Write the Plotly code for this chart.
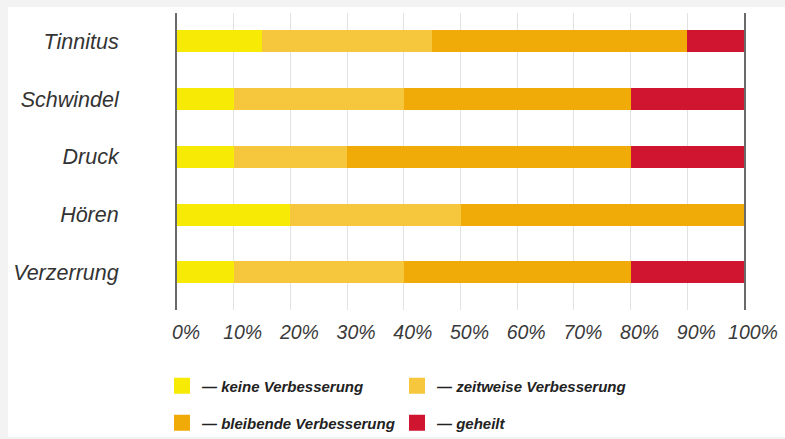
import plotly.graph_objects as go

categories = ["Tinnitus", "Schwindel", "Druck", "Hören", "Verzerrung"]
keine = [15, 10, 10, 20, 10]
zeitweise = [30, 30, 20, 30, 30]
bleibende = [45, 40, 50, 50, 40]
geheilt = [10, 20, 20, 0, 20]
x_ticks = [0, 10, 20, 30, 40, 50, 60, 70, 80, 90, 100]
x_tick_labels = [f"{v}%" for v in x_ticks]

series = [
    ("— keine Verbesserung", keine, "#f7ea05", "legend"),
    ("— zeitweise Verbesserung", zeitweise, "#f6c63c", "legend"),
    ("— bleibende Verbesserung", bleibende, "#f0ab08", "legend2"),
    ("— geheilt", geheilt, "#cf1530", "legend2"),
]

W, H = 785, 439
ML, MR, MT, MB = 177, 41, 13, 129
PW, PH = W - ML - MR, H - MT - MB

fig = go.Figure()
for name, vals, color, lg in series:
    fig.add_trace(go.Bar(
        y=categories, x=vals, orientation="h", name=name,
        marker=dict(color=color, line=dict(width=0)),
        width=0.38, showlegend=False,
    ))
    fig.add_trace(go.Scatter(
        x=[None], y=[None], mode="markers", name=name,
        marker=dict(symbol="square", size=16, color=color),
        legend=lg, showlegend=True,
    ))

def px_x(p):
    return (p - ML) / PW

def px_y(p):
    return (H - MB - p) / PH

def cx(p):
    return p / W

def cy(p):
    return 1 - p / H

legend_font = dict(family="Liberation Sans, Arial, sans-serif", size=15,
                   color="#222222", style="italic", weight="bold")

fig.update_layout(
    width=W, height=H,
    margin=dict(l=ML, r=MR, t=MT, b=MB, pad=0, autoexpand=False),
    paper_bgcolor="#f3f3f3",
    plot_bgcolor="white",
    barmode="stack",
    bargap=0,
    shapes=[dict(type="rect", xref="paper", yref="paper", layer="below",
                 x0=px_x(8), x1=px_x(785), y0=px_y(437), y1=px_y(7),
                 fillcolor="white", line=dict(width=0))],
    xaxis=dict(
        range=[0, 100], tickvals=x_ticks, ticktext=x_tick_labels,
        showgrid=True, gridcolor="#e2e2e2", gridwidth=1,
        zeroline=False, showline=False, ticks="",
        tickfont=dict(family="Liberation Sans, Arial, sans-serif", size=19.5,
                      color="#3a3a3a", style="italic"),
        ticklabelshift=9, ticklabelstandoff=8,
    ),
    yaxis=dict(
        categoryorder="array", categoryarray=categories,
        range=[4.65, -0.49], showgrid=False, zeroline=False,
        showline=True, linecolor="#6a6a6a", linewidth=2, mirror=True,
        ticks="", ticklabelstandoff=52,
        tickfont=dict(family="Liberation Sans, Arial, sans-serif", size=21.5,
                      color="#333333", style="italic"),
    ),
    legend=dict(orientation="h", xref="container", yref="container",
                x=cx(162), xanchor="left", y=cy(386), yanchor="middle",
                entrywidth=190, traceorder="normal",
                font=legend_font, bgcolor="rgba(0,0,0,0)", itemclick=False),
    legend2=dict(orientation="h", xref="container", yref="container",
                 x=cx(162), xanchor="left", y=cy(423), yanchor="middle",
                 entrywidth=190, traceorder="normal",
                 font=legend_font, bgcolor="rgba(0,0,0,0)", itemclick=False),
)

fig.write_html("out.html", config={"displayModeBar": False},
               post_script="document.body.style.margin='0';")
